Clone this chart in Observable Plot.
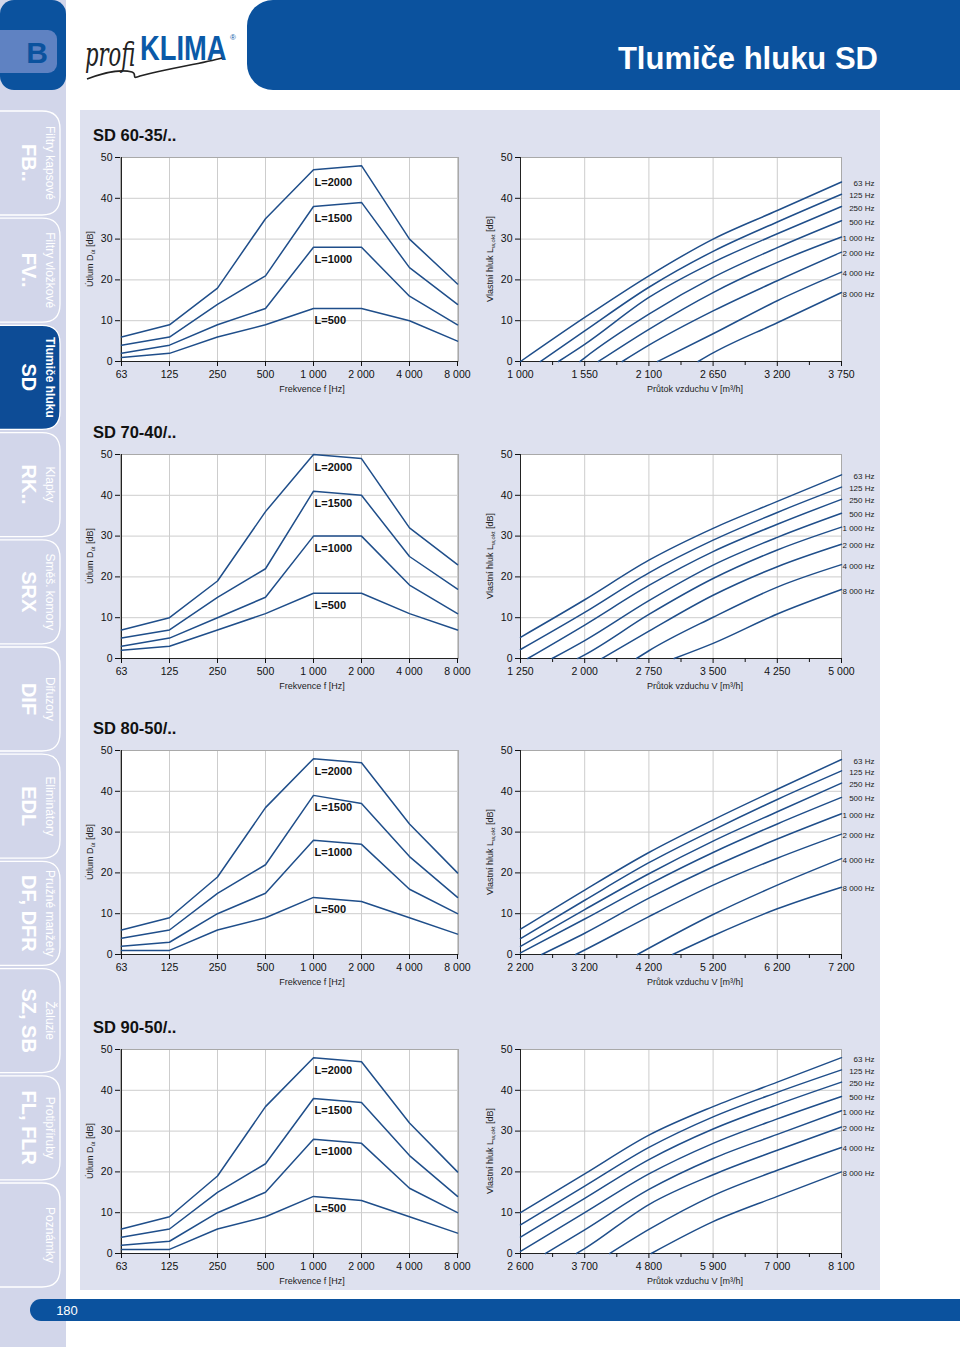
<!DOCTYPE html>
<html><head><meta charset="utf-8">
<script src="https://cdn.jsdelivr.net/npm/d3@7"></script>
<script src="https://cdn.jsdelivr.net/npm/@observablehq/plot@0.6"></script>
<style>
body{margin:0;background:#fff;font-family:"Liberation Sans",Arial,sans-serif;}
#page{position:relative;width:960px;height:1347px;overflow:hidden;background:#fff;}
#page > svg.chart{position:absolute;}
</style></head><body><div id="page"></div>
<script>
// ---------- DATA ----------
const models = ["SD 60-35/..", "SD 70-40/..", "SD 80-50/..", "SD 90-50/.."];
const freqCats = ["63","125","250","500","1000","2000","4000","8000"];
const freqTickLabels = ["63","125","250","500","1 000","2 000","4 000","8 000"];
const lengthLabels = ["L=2000","L=1500","L=1000","L=500"];
const yTicks = [0,10,20,30,40,50];

const att6035 = [[6,9,18,35,47,48,30,19],[4,6,14,21,38,39,23,14],[2,4,9,13,28,28,16,9],[1,2,6,9,13,13,10,5]];
const att7040 = [[7,10,19,36,50,49,32,23],[5,7,15,22,41,40,25,17],[3,5,10,15,30,30,18,11],[2,3,7,11,16,16,11,7]];
const att8050 = [[6,9,19,36,48,47,32,20],[4,6,15,22,39,37,24,14],[2,3,10,15,28,27,16,10],[1,1,6,9,14,13,9,5]];
const att9050 = [[6,9,19,36,48,47,32,20],[4,6,15,22,38,37,24,14],[2,3,10,15,28,27,16,10],[1,1,6,9,14,13,9,5]];

const flowTicks6035 = [1000,1550,2100,2650,3200,3750];
const flowTicks7040 = [1250,2000,2750,3500,4250,5000];
const flowTicks8050 = [2200,3200,4200,5200,6200,7200];
const flowTicks9050 = [2600,3700,4800,5900,7000,8100];

const noise6035 = [
  ["63 Hz",    [[1000,0],[1550,10.8],[2100,21],[2650,30],[3200,37],[3750,44]]],
  ["125 Hz",   [[1170,0],[1550,7.5],[2100,18.2],[2650,27],[3200,34.2],[3750,41]]],
  ["250 Hz",   [[1325,0],[1550,4.2],[2100,15.7],[2650,24.3],[3200,31.3],[3750,38]]],
  ["500 Hz",   [[1510,0],[1550,0.9],[2100,11.6],[2650,20.6],[3200,27.9],[3750,34.5]]],
  ["1 000 Hz", [[1667,0],[2100,7.9],[2650,16.9],[3200,24.3],[3750,30.5]]],
  ["2 000 Hz", [[1872,0],[2100,4],[2650,12.4],[3200,19.8],[3750,26.8]]],
  ["4 000 Hz", [[2174,0],[2650,6.8],[3200,14.9],[3750,21.9]]],
  ["8 000 Hz", [[2522,0],[2650,2.1],[3200,9.5],[3750,16.9]]]
];
const noise7040 = [
  ["63 Hz",    [[1250,5.2],[2000,14.4],[2750,24.1],[3500,31.9],[4250,38.5],[5000,45]]],
  ["125 Hz",   [[1250,2.2],[2000,11.3],[2750,21],[3500,29],[4250,35.8],[5000,42]]],
  ["250 Hz",   [[1335,0],[2000,8.2],[2750,17.9],[3500,26.2],[4250,32.9],[5000,39]]],
  ["500 Hz",   [[1619,0],[2000,4.4],[2750,14.2],[3500,22.9],[4250,29.7],[5000,35.6]]],
  ["1 000 Hz", [[1918,0],[2000,0.9],[2750,10.8],[3500,19.6],[4250,26.6],[5000,32.2]]],
  ["2 000 Hz", [[2202,0],[2750,6.7],[3500,15.5],[4250,22.5],[5000,28]]],
  ["4 000 Hz", [[2606,0],[2750,1.9],[3500,10.1],[4250,17.5],[5000,23]]],
  ["8 000 Hz", [[3045,0],[3500,3.7],[4250,10.9],[5000,16.9]]]
];
const noise8050 = [
  ["63 Hz",    [[2200,6.2],[3200,15.8],[4200,25],[5200,33],[6200,40.5],[7200,47.8]]],
  ["125 Hz",   [[2200,3.9],[3200,13.3],[4200,22.5],[5200,30.5],[6200,38],[7200,45]]],
  ["250 Hz",   [[2200,2],[3200,11],[4200,19.8],[5200,27.8],[6200,35],[7200,42]]],
  ["500 Hz",   [[2200,0.4],[3200,8.7],[4200,17.2],[5200,25],[6200,32],[7200,38.5]]],
  ["1 000 Hz", [[2530,0],[3200,5.2],[4200,13.8],[5200,21.5],[6200,28.3],[7200,34.5]]],
  ["2 000 Hz", [[3060,0],[3200,1.1],[4200,9.3],[5200,17],[6200,23.6],[7200,29.5]]],
  ["4 000 Hz", [[4020,0],[5200,9.8],[6200,17],[7200,23.5]]],
  ["8 000 Hz", [[4570,0],[5200,4.6],[6200,11.2],[7200,16.5]]]
];
const noise9050 = [
  ["63 Hz",    [[2600,10],[3700,19.5],[4800,29],[5900,36],[7000,42],[8100,48]]],
  ["125 Hz",   [[2600,7],[3700,16.5],[4800,26],[5900,33.5],[7000,39.5],[8100,45]]],
  ["250 Hz",   [[2600,4],[3700,13.5],[4800,23],[5900,30.5],[7000,36.5],[8100,42]]],
  ["500 Hz",   [[2600,0.5],[3700,10],[4800,19.5],[5900,27],[7000,33],[8100,38.5]]],
  ["1 000 Hz", [[3027,0],[3700,5.8],[4800,15.7],[5900,23.3],[7000,29.2],[8100,35]]],
  ["2 000 Hz", [[3560,0],[3700,1.2],[4800,12],[5900,19.3],[7000,25.3],[8100,31]]],
  ["4 000 Hz", [[4130,0],[4800,5.9],[5900,14.2],[7000,20.4],[8100,26]]],
  ["8 000 Hz", [[4840,0],[5900,7.8],[7000,14],[8100,20]]]
];

const sidebarCodes = ["FB..","FV..","SD","RK..","SRX","DIF","EDL","DF, DFR","SZ, SB","FL, FLR",""];
const sidebarNames = ["Filtry kapsové","Filtry vložkové","Tlumiče hluku","Klapky","Směš. komory","Difuzory","Eliminátory","Pružné manžety","Žaluzie","Protipříruby","Poznámky"];
const activeTab = 2;
const pageTitle = "Tlumiče hluku SD";
const pageNumber = "180";

// ---------- STYLE ----------
const FONT = '"Liberation Sans", Arial, sans-serif';
const BLUE = "#0b529e";
const LINE = "#1f4e8a";
const GRID = "#cdcdcd";
const fmt = d => String(d).replace(/\B(?=(\d{3})+(?!\d))/g, " ");

const page = d3.select("#page");

// ---------- BACKGROUND DECORATION ----------
const bg = page.append("svg").attr("width",960).attr("height",1347)
  .style("position","absolute").style("left","0").style("top","0");
bg.append("rect").attr("x",0).attr("y",0).attr("width",66).attr("height",1347).attr("fill","#d2d6ea");
bg.append("rect").attr("x",80).attr("y",110).attr("width",800).attr("height",1180).attr("fill","#dee1ef");
// B badge
bg.append("rect").attr("x",0).attr("y",0).attr("width",66).attr("height",90).attr("rx",14).attr("fill",BLUE);
bg.append("rect").attr("x",-10).attr("y",30).attr("width",67).attr("height",43).attr("rx",9).attr("fill","#5f82c2");
bg.append("text").attr("x",37).attr("y",52).attr("text-anchor","middle").attr("dominant-baseline","central")
  .attr("font-family",FONT).attr("font-weight","bold").attr("font-size",30).attr("fill",BLUE).text("B");
// logo
bg.append("text").attr("transform","translate(85,66) scale(0.64,1)").attr("font-family","DejaVu Serif, serif")
  .attr("font-style","italic").attr("font-size",33).attr("fill","#222").text("profi");
bg.append("text").attr("transform","translate(140,60) scale(0.76,1)").attr("font-family",FONT).attr("font-weight","bold")
  .attr("font-size",36).attr("fill","#0b5aa8").text("KLIMA");
bg.append("text").attr("x",230).attr("y",40).attr("font-family",FONT).attr("font-size",8).attr("fill","#0b5aa8").text("®");
bg.append("path").attr("d","M87,79 C110,70 125,70 132,72 C138,74 130,80 140,76 C170,68 200,64 222,58")
  .attr("fill","none").attr("stroke","#222").attr("stroke-width",1.6);
// title bar
bg.append("rect").attr("x",247).attr("y",0).attr("width",740).attr("height",90).attr("rx",26).attr("fill",BLUE);
bg.append("text").attr("x",878).attr("y",58).attr("text-anchor","end").attr("dominant-baseline","central")
  .attr("font-family",FONT).attr("font-weight","bold").attr("font-size",31).attr("fill","#fff").text(pageTitle);
// bottom bar
bg.append("rect").attr("x",30).attr("y",1299).attr("width",960).attr("height",22).attr("rx",11).attr("fill",BLUE);
bg.append("text").attr("x",67).attr("y",1310).attr("text-anchor","middle").attr("dominant-baseline","central")
  .attr("font-family",FONT).attr("font-size",13).attr("fill","#fff").text(pageNumber);
// sidebar tabs
sidebarNames.forEach((name,i) => {
  const y0 = 111 + i*107.2, y1 = y0 + 104, r = 18, xr = 60;
  const path = `M-5,${y0} L${xr-r},${y0} Q${xr},${y0} ${xr},${y0+r} L${xr},${y1-r} Q${xr},${y1} ${xr-r},${y1} L-5,${y1}`;
  bg.append("path").attr("d",path).attr("fill", i===activeTab ? "#0d4c96" : "none")
    .attr("stroke","#fff").attr("stroke-width",1.3);
  const cy = (y0+y1)/2;
  bg.append("text").attr("transform",`translate(50,${cy}) rotate(90)`).attr("text-anchor","middle")
    .attr("dominant-baseline","central").attr("font-family",FONT).attr("font-size",12)
    .attr("font-weight", i===activeTab ? "bold" : "normal").attr("fill","#fff").text(name);
  if (sidebarCodes[i]) bg.append("text").attr("transform",`translate(29,${cy}) rotate(90)`).attr("text-anchor","middle")
    .attr("dominant-baseline","central").attr("font-family",FONT).attr("font-size",20).attr("font-weight","bold")
    .attr("fill","#fff").text(sidebarCodes[i]);
});

// ---------- CHARTS ----------
const plotTops = [157, 454, 750, 1049];
const PH = 204, MT = 12, MB = 40;

function addYLabel(svg, main, sub, rest) {
  const t = d3.select(svg).append("text")
    .attr("transform",`translate(13,${MT + PH/2}) rotate(-90)`).attr("text-anchor","middle")
    .attr("font-family",FONT).attr("font-size",9).attr("fill","#222");
  t.append("tspan").text(main);
  t.append("tspan").attr("font-size",6).attr("dy",2).text(sub);
  t.append("tspan").attr("dy",-2).text(rest);
}
function addXLabel(svg, x, label) {
  d3.select(svg).append("text").attr("x",x).attr("y",MT+PH+31).attr("text-anchor","middle")
    .attr("font-family",FONT).attr("font-size",9).attr("fill","#222").text(label);
}

function leftChart(att, row) {
  const rows = [];
  att.forEach((vals,i) => vals.forEach((v,j) => rows.push({L: lengthLabels[i], f: freqCats[j], v})));
  const labs = att.map((vals,i) => ({L: lengthLabels[i], v: vals[freqCats.indexOf("1000")]}));
  const svg = Plot.plot({
    width: 400, height: MT+PH+MB, marginLeft: 40, marginRight: 22, marginTop: MT, marginBottom: MB,
    style: {background:"transparent", fontFamily: FONT, fontSize: "10.5px", color:"#111", overflow:"visible"},
    x: {type:"point", domain: freqCats, padding: 0},
    y: {domain:[0,50]},
    marks: [
      Plot.frame({fill:"#fff"}),
      Plot.gridX({stroke:GRID, strokeOpacity:1}),
      Plot.gridY({ticks: yTicks, stroke:GRID, strokeOpacity:1}),
      Plot.frame({stroke:"#a9a9a9"}),
      Plot.ruleX([freqCats[0]], {stroke:"#222"}),
      Plot.ruleY([0], {stroke:"#222"}),
      Plot.axisY({ticks: yTicks, tickSize: 5, tickPadding: 3, label: null}),
      Plot.axisX({tickSize: 5, tickPadding: 4, label: null, tickFormat: d => freqTickLabels[freqCats.indexOf(d)]}),
      Plot.line(rows, {x:"f", y:"v", z:"L", stroke: LINE, strokeWidth: 1.5}),
      Plot.text(labs, {x: () => "1000", y: "v", text: "L", dx: 1, dy: 12.5, textAnchor: "start",
        fontWeight: "bold", fontSize: 11, fill: "#111"})
    ]
  });
  svg.setAttribute("class","chart");
  svg.style.left = "80px"; svg.style.top = (plotTops[row]-MT) + "px";
  addYLabel(svg, "Útlum D", "út", " [dB]");
  addXLabel(svg, 232, "Frekvence f [Hz]");
  page.node().appendChild(svg);
  page.append("div").style("position","absolute").style("left","93px").style("top",(plotTops[row]-31)+"px")
    .style("font-family",FONT).style("font-weight","bold").style("font-size","16.5px").style("color","#111")
    .text(models[row]);
}

function rightChart(bands, ticks, row) {
  const rows = [];
  bands.forEach(([name, pts]) => pts.forEach(([x,y]) => rows.push({band: name, x, y})));
  const labs = bands.map(([name, pts]) => ({band: name, x: pts[pts.length-1][0], y: pts[pts.length-1][1]}));
  const minor = d3.pairs(ticks).map(([a,b]) => (a+b)/2);
  const svg = Plot.plot({
    width: 400, height: MT+PH+MB, marginLeft: 40, marginRight: 39, marginTop: MT, marginBottom: MB,
    style: {background:"transparent", fontFamily: FONT, fontSize: "10.5px", color:"#111", overflow:"visible"},
    x: {domain: [ticks[0], ticks[ticks.length-1]]},
    y: {domain: [0,50]},
    marks: [
      Plot.frame({fill:"#fff"}),
      Plot.gridX({ticks, stroke:GRID, strokeOpacity:1}),
      Plot.gridY({ticks: yTicks, stroke:GRID, strokeOpacity:1}),
      Plot.frame({stroke:"#a9a9a9"}),
      Plot.ruleX([ticks[0]], {stroke:"#222"}),
      Plot.ruleY([0], {stroke:"#222"}),
      Plot.axisY({ticks: yTicks, tickSize: 5, tickPadding: 3, label: null}),
      Plot.axisX({ticks, tickSize: 5, tickPadding: 4, label: null, tickFormat: fmt}),
      Plot.axisX({ticks: minor, tickSize: 4, label: null, tickFormat: () => ""}),
      Plot.line(rows, {x:"x", y:"y", z:"band", stroke: LINE, strokeWidth: 1.5, curve: "monotone-x"}),
      Plot.text(labs, {x:"x", y:"y", text:"band", dx: 33, dy: 1.5, textAnchor:"end", fontSize: 8, fill:"#222"})
    ]
  });
  svg.setAttribute("class","chart");
  svg.style.left = "480px"; svg.style.top = (plotTops[row]-MT) + "px";
  addYLabel(svg, "Vlastní hluk L", "w,okt", " [dB]");
  addXLabel(svg, 215, "Průtok vzduchu V [m³/h]");
  page.node().appendChild(svg);
}

[att6035, att7040, att8050, att9050].forEach((a,i) => leftChart(a, i));
[[noise6035, flowTicks6035],[noise7040, flowTicks7040],[noise8050, flowTicks8050],[noise9050, flowTicks9050]]
  .forEach(([b,t],i) => rightChart(b, t, i));
</script></body></html>
